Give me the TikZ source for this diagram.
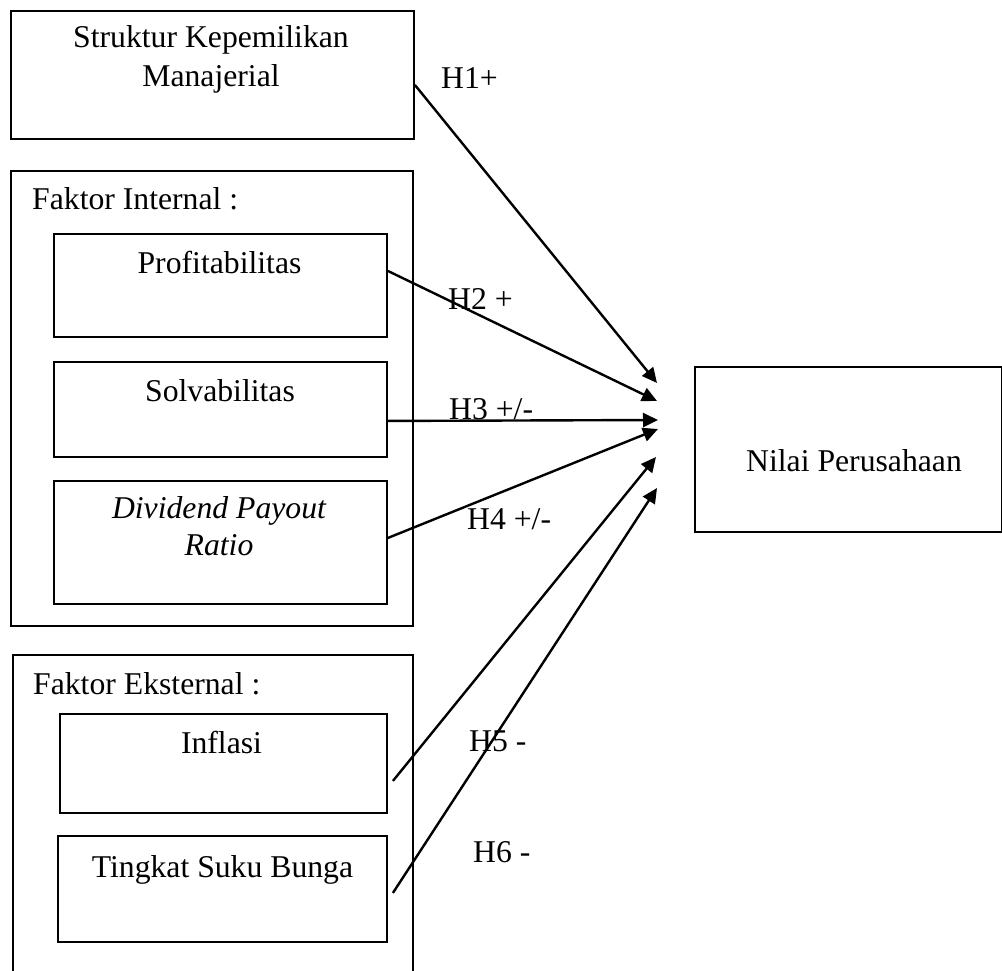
\documentclass[tikz,border=0pt]{standalone}
\usepackage{fontspec}
\setmainfont{Liberation Serif}
\usetikzlibrary{arrows.meta,calc}

\begin{document}
\begin{tikzpicture}[
      x=1pt,y=-1pt,
      every node/.style={font=\fontsize{31.7}{39}\selectfont,inner sep=0pt},
      box/.style={draw,line width=1.9pt,anchor=north west},
      txt/.style={anchor=base,align=center},
      lbl/.style={anchor=base west},
      hyp/.style={line width=2.4pt,-{Triangle[length=15pt,width=14pt]}}
    ]
    \useasboundingbox (0,0) rectangle (1002,971);
    \clip (0,0) rectangle (1002,971);
    % left column
    \node[box,minimum width=403pt,minimum height=128pt] (skm) at (10,10) {};
    \node[txt] (skmT) at (211,87) {Struktur Kepemilikan\\Manajerial};
    \node[box,minimum width=402pt,minimum height=455pt] (intern) at (10,170) {};
    \node[lbl] (internT) at (32,210) {Faktor Internal :};
    \node[box,minimum width=333pt,minimum height=103pt] (prof) at (53,233) {};
    \node[txt] (profT) at (219.5,273) {Profitabilitas};
    \node[box,minimum width=333pt,minimum height=95pt] (solv) at (53,361) {};
    \node[txt] (solvT) at (220,401) {Solvabilitas};
    \node[box,minimum width=333pt,minimum height=123pt] (dpr) at (53,480) {};
    \node[txt,font=\fontsize{31.7}{37}\selectfont\itshape] (dprT) at (219,555) {Dividend Payout\\Ratio};
    \node[box,minimum width=400pt,minimum height=346pt] (ekst) at (12,654) {};
    \node[lbl] (ekstT) at (33,694) {Faktor Eksternal :};
    \node[box,minimum width=327pt,minimum height=99pt] (infl) at (59,713) {};
    \node[txt] (inflT) at (221.5,753) {Inflasi};
    \node[box,minimum width=329pt,minimum height=106pt] (tsb) at (57,835) {};
    \node[txt] (tsbT) at (222.5,877) {Tingkat Suku Bunga};
    % right
    \node[box,minimum width=307pt,minimum height=165pt] (nilai) at (694,366) {};
    \node[txt] (nilaiT) at (854,471) {Nilai Perusahaan};
    % arrow ends
    \coordinate (s1) at ([yshift=-10pt]skm.east);
    \coordinate (s2) at ([yshift=14.5pt]prof.east);
    \coordinate (s3) at ([yshift=-11.5pt]solv.east);
    \coordinate (s4) at ([yshift=4.5pt]dpr.east);
    \coordinate (s5) at ([xshift=5pt,yshift=-17.5pt]infl.east);
    \coordinate (s6) at ([xshift=5pt,yshift=-4pt]tsb.east);
    \coordinate (m1) at (657,383); \coordinate (m2) at (657,401);
    \coordinate (m3) at (658,420); \coordinate (m4) at (658,429);
    \coordinate (m5) at (656,457); \coordinate (m6) at (657,488);
    \foreach \i in {1,...,6}{\draw[hyp] (s\i) -- (m\i);}
    % hypothesis labels
    \node[lbl] (h1) at (441,89) {H1+};
    \node[lbl] (h2) at (448,309) {H2 +};
    \node[lbl] (h3) at (449,419) {H3 +/-};
    \node[lbl] (h4) at (467,529) {H4 +/-};
    \node[lbl] (h5) at (469,751) {H5 -};
    \node[lbl] (h6) at (473,862) {H6 -};
  \end{tikzpicture}
\end{document}
